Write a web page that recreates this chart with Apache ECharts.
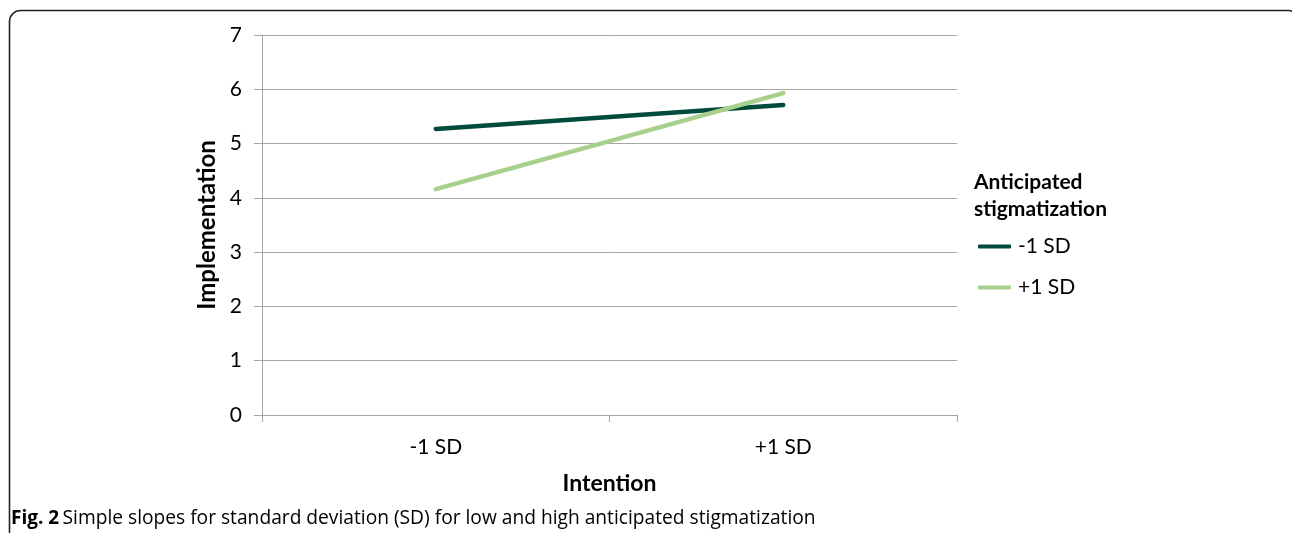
<!DOCTYPE html>
<html><head><meta charset="utf-8">
<script src="https://cdn.jsdelivr.net/npm/echarts@6/dist/echarts.min.js"></script>
<style>html,body{margin:0;padding:0;background:#fff}#c{width:1292px;height:533px}</style>
</head><body><div id="c"></div>
<script>
var categories = ['-1 SD', '+1 SD'];
var seriesNames = ['-1 SD', '+1 SD'];
var lowStigma = [5.27, 5.71];
var highStigma = [4.16, 5.93];
var yTicks = [0, 1, 2, 3, 4, 5, 6, 7];

var chart = echarts.init(document.getElementById('c'));
var font = 'Lato';
chart.setOption({
  animation: false,
  textStyle: {fontFamily: font},
  grid: {left: 262, right: 335, top: 35, bottom: 118, containLabel: false},
  xAxis: {
    type: 'category', data: categories, boundaryGap: true,
    name: 'Intention', nameLocation: 'middle', nameGap: 57,
    nameTextStyle: {fontSize: 23, fontWeight: 'bold', color: '#000', fontFamily: font},
    axisLine: {lineStyle: {color: '#a6a6a6', width: 1}},
    axisTick: {show: true, length: 7, alignWithLabel: false, lineStyle: {color: '#a6a6a6'}},
    axisLabel: {fontSize: 21, color: '#000', margin: 22, fontFamily: font},
    splitLine: {show: false}
  },
  yAxis: {
    type: 'value', min: yTicks[0], max: yTicks[yTicks.length - 1], interval: 1,
    name: 'Implementation', nameLocation: 'middle', nameGap: 43,
    nameTextStyle: {fontSize: 24, fontWeight: 'bold', color: '#000', fontFamily: font},
    axisLine: {show: true, lineStyle: {color: '#a6a6a6', width: 1}},
    axisTick: {show: true, length: 8, lineStyle: {color: '#a6a6a6'}},
    axisLabel: {fontSize: 21, color: '#000', margin: 20, fontFamily: font},
    splitLine: {show: true, lineStyle: {color: '#a6a6a6', width: 1}}
  },
  legend: {
    orient: 'vertical', left: 973, top: 231,
    icon: 'roundRect', itemWidth: 33, itemHeight: 4, itemGap: 20,
    data: seriesNames,
    textStyle: {fontSize: 21, color: '#000', fontFamily: font, padding: [0, 0, 0, 2]}
  },
  series: [
    {name: seriesNames[0], type: 'line', data: lowStigma, symbol: 'none',
     lineStyle: {color: '#004b3a', width: 4.5, cap: 'round'}, itemStyle: {color: '#004b3a'}},
    {name: seriesNames[1], type: 'line', data: highStigma, symbol: 'none',
     lineStyle: {color: '#a8d08d', width: 4.5, cap: 'round'}, itemStyle: {color: '#a8d08d'}}
  ],
  graphic: [
    {type: 'rect', shape: {x: 9.5, y: 10.5, width: 1290, height: 600, r: 11},
     style: {fill: 'none', stroke: '#222', lineWidth: 1.6}, silent: true},
    {type: 'text', left: 974, top: 169,
     style: {text: 'Anticipated\nstigmatization', font: 'bold 21px Lato', fill: '#000', lineHeight: 27}},
    {type: 'text', left: 11, top: 509,
     style: {rich: {b: {font: 'bold 19px "Open Sans"', fill: '#000'}, n: {font: '19.2px "Open Sans"', fill: '#000'}},
             text: '{b|Fig. 2} {n|Simple slopes for standard deviation (SD) for low and high anticipated stigmatization}'}}
  ]
});
</script></body></html>
